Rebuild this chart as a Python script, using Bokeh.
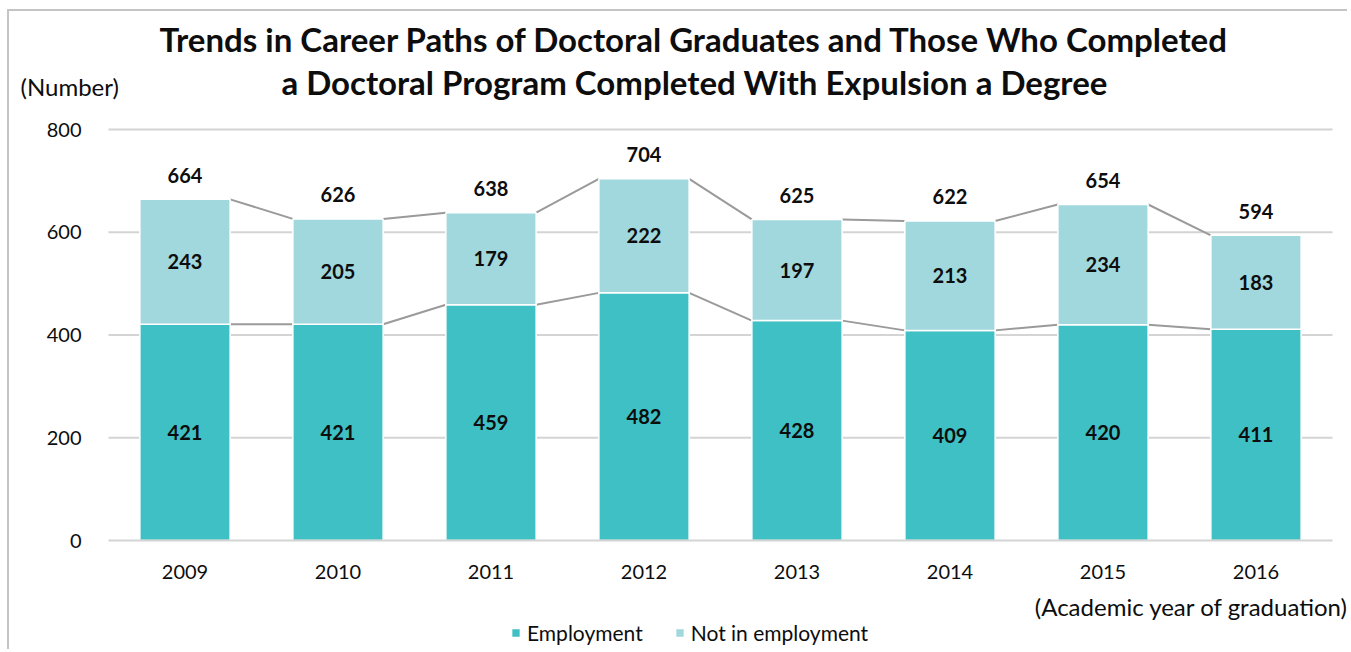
from bokeh.plotting import figure
from bokeh.models import (ColumnDataSource, Label, Legend, LegendItem, Range1d,
                          LinearAxis, FixedTicker)
from bokeh.core.properties import value
from bokeh.embed import file_html
from bokeh.resources import INLINE

years = ["2009", "2010", "2011", "2012", "2013", "2014", "2015", "2016"]
employment = [421, 421, 459, 482, 428, 409, 420, 411]
not_employment = [243, 205, 179, 222, 197, 213, 234, 183]
totals = [664, 626, 638, 704, 625, 622, 654, 594]
y_ticks = [0, 200, 400, 600, 800]

FONT = "Lato"
C_EMP = "#3EC0C5"
C_NOT = "#A0D8DD"
TXT = "#0d0d0d"
BAR_W = 0.59

# layout (pixels)
W, H = 1340, 640
PX_CAT = 153.0          # px per category
PX_Y = 411.0 / 800.0    # px per unit
AX_LEFT, AX_RIGHT_PAD = 99, 17   # frame px left of first category / right of last
AX_BOTTOM, AX_TOP = 111, 118     # frame px below 0 / above 800

xs = [i + 0.5 for i in range(len(years))]

src = ColumnDataSource(dict(
    x=xs,
    employment=employment,
    not_employment=not_employment,
    totals=totals,
    emp_mid=[e / 2 for e in employment],
    not_mid=[e + n / 2 for e, n in zip(employment, not_employment)],
    emp_txt=[str(v) for v in employment],
    not_txt=[str(v) for v in not_employment],
    tot_txt=[str(v) for v in totals],
))

p = figure(x_range=Range1d(-AX_LEFT / PX_CAT, len(years) + AX_RIGHT_PAD / PX_CAT),
           y_range=Range1d(-AX_BOTTOM / PX_Y, 800 + AX_TOP / PX_Y),
           width=W, height=H, output_backend="svg", toolbar_location=None,
           x_axis_location=None, y_axis_location=None, min_border=0)
p.outline_line_color = None
p.xgrid.visible = False
p.ygrid.visible = False
p.styles = {"margin-left": "7px", "margin-top": "9px",
            "border-left": "2px solid #c4c4c4", "border-top": "2px solid #c4c4c4"}

# gridlines
grid_src = ColumnDataSource(dict(y=y_ticks[1:], x0=[0] * 4, x1=[len(years)] * 4))
p.segment(x0="x0", x1="x1", y0="y", y1="y", source=grid_src, line_color="#d4d4d4", line_width=2)

# axes drawn inside the frame
yax = LinearAxis(ticker=FixedTicker(ticks=y_ticks), fixed_location=0)
yax.axis_line_color = None
yax.major_tick_line_color = None
yax.minor_tick_line_color = None
yax.major_label_standoff = 21
p.add_layout(yax, "left")

xax = LinearAxis(ticker=FixedTicker(ticks=xs), fixed_location=0, bounds=(0, len(years)),
                 major_label_overrides={x: y for x, y in zip(xs, years)})
xax.axis_line_color = "#d4d4d4"
xax.axis_line_width = 2
xax.major_tick_line_color = None
xax.minor_tick_line_color = None
xax.major_label_standoff = 18
p.add_layout(xax, "below")
for ax in (xax, yax):
    ax.major_label_text_font = FONT
    ax.major_label_text_font_size = "20px"
    ax.major_label_text_color = TXT

# connecting lines between bars
segs = ColumnDataSource(dict(
    x0=[x + BAR_W / 2 for x in xs[:-1]],
    x1=[x - BAR_W / 2 for x in xs[1:]],
    e0=employment[:-1], e1=employment[1:],
    t0=totals[:-1], t1=totals[1:],
))
p.segment(x0="x0", y0="e0", x1="x1", y1="e1", source=segs, line_color="#9a9a9a", line_width=2)
p.segment(x0="x0", y0="t0", x1="x1", y1="t1", source=segs, line_color="#9a9a9a", line_width=2)

rs = p.vbar_stack(["employment", "not_employment"], x="x", width=BAR_W,
                  color=[C_EMP, C_NOT], line_color="white", line_width=1.5, source=src)

common = dict(text_font=value(FONT), text_font_style="bold", text_font_size="20px",
              text_align="center", text_baseline="middle", text_color=TXT, source=src)
p.text(x="x", y="emp_mid", text="emp_txt", **common)
p.text(x="x", y="not_mid", text="not_txt", **common)
p.text(x="x", y="totals", text="tot_txt", y_offset=-24, **common)

# titles and notes (screen units from frame bottom-left)
title_kw = dict(x_units="screen", y_units="screen", text_font=FONT, text_font_style="bold",
                text_font_size="33px", text_align="center", text_baseline="middle",
                text_color=TXT)
p.add_layout(Label(x=685, y=H - 27, text="Trends in Career Paths of Doctoral Graduates and Those Who Completed", **title_kw))
p.add_layout(Label(x=685, y=H - 70, text="a Doctoral Program Completed With Expulsion a Degree", **title_kw))

note_kw = dict(x_units="screen", y_units="screen", text_font=FONT, text_font_size="24px",
               text_baseline="middle", text_color=TXT)
p.add_layout(Label(x=11, y=H - 75, text="(Number)", text_align="left", **note_kw))
p.add_layout(Label(x=W - 1, y=H - 595, text="(Academic year of graduation)", text_align="right", **note_kw))

legend = Legend(items=[LegendItem(label="Employment", renderers=[rs[0]]),
                       LegendItem(label="Not in employment", renderers=[rs[1]])],
                orientation="horizontal", location=(501, 6),
                label_text_font=FONT, label_text_font_size="21px", label_text_color=TXT,
                glyph_width=11, glyph_height=11, label_standoff=6, spacing=31,
                padding=0, margin=0, border_line_color=None, background_fill_alpha=0)
p.add_layout(legend)

open("out.html", "w").write(file_html(p, INLINE))
